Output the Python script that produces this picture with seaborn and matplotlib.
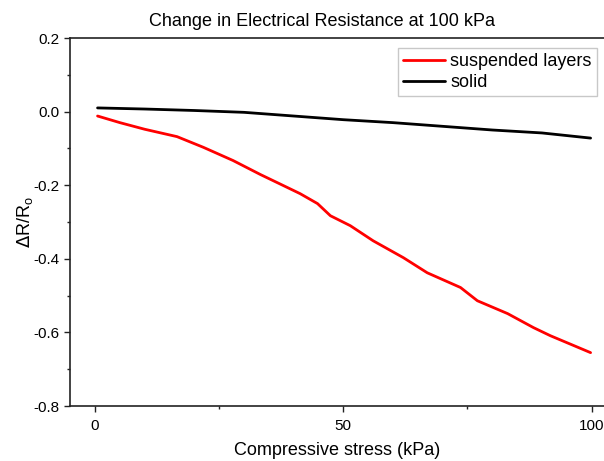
import numpy as np
import pandas as pd
import matplotlib
matplotlib.use("Agg")
import matplotlib.pyplot as plt
import seaborn as sns
from matplotlib.ticker import MultipleLocator

# Data
susp_x = [0.5, 5, 10, 16.5, 21.8, 27.8, 33.3, 37, 41.3, 44.8, 47.4, 51.4, 56, 62.1,
          66.9, 73.6, 77, 83.1, 88.3, 91.7, 99.8]
susp_y = [-0.012, -0.030, -0.048, -0.068, -0.097, -0.133, -0.171, -0.195, -0.223, -0.250,
          -0.283, -0.310, -0.351, -0.397, -0.438, -0.478, -0.514, -0.549, -0.587, -0.609, -0.655]
solid_x = [0.5, 10, 20, 30, 40, 50, 60, 70, 80, 90, 99.8]
solid_y = [0.010, 0.007, 0.003, -0.002, -0.012, -0.022, -0.030, -0.040, -0.050, -0.058, -0.072]
y_ticks = [0.2, 0.0, -0.2, -0.4, -0.6, -0.8]
y_ticklabels = ["0.2", "0.0", "-0.2", "-0.4", "-0.6", "-0.8"]

df = pd.concat([
    pd.DataFrame({"x": susp_x, "y": susp_y, "series": "suspended layers"}),
    pd.DataFrame({"x": solid_x, "y": solid_y, "series": "solid"}),
])

sns.set_style("ticks")
plt.rcParams["font.family"] = ["Liberation Sans", "DejaVu Sans"]
plt.rcParams["text.color"] = "black"
plt.rcParams["axes.labelcolor"] = "black"
plt.rcParams["xtick.color"] = "#222222"
plt.rcParams["ytick.color"] = "#222222"
plt.rcParams["xtick.labelcolor"] = "black"
plt.rcParams["ytick.labelcolor"] = "black"

fig = plt.figure(figsize=(6.04, 4.61), dpi=100)
ax = fig.add_axes([70/604, 1 - 406/461, 1 - 70/604, (406 - 38)/461])

sns.lineplot(data=df, x="x", y="y", hue="series", sort=False,
             palette={"suspended layers": "#ff0000", "solid": "#000000"},
             linewidth=2.0, ax=ax, estimator=None)

ax.set_xlim(-5.05, 102.5)
ax.set_ylim(-0.8, 0.2)
ax.xaxis.set_major_locator(MultipleLocator(50))
ax.xaxis.set_minor_locator(MultipleLocator(25))
ax.yaxis.set_minor_locator(MultipleLocator(0.1))
ax.set_yticks(y_ticks)
ax.set_yticklabels(y_ticklabels)

ax.tick_params(which="major", length=4.5, width=1, direction="out", labelsize=11, pad=3)
ax.tick_params(axis="x", which="major", pad=5)
ax.tick_params(which="minor", length=2.5, width=1, direction="out")
for s in ["left", "bottom", "top"]:
    ax.spines[s].set_linewidth(1.2)
    ax.spines[s].set_color("#222222")
ax.spines["right"].set_visible(False)

ax.set_xlabel("Compressive stress (kPa)", fontsize=13, labelpad=6)
ax.set_ylabel(r"$\Delta$R/R$_\mathregular{o}$", fontsize=13, labelpad=-1)
ax.set_title("Change in Electrical Resistance at 100 kPa", fontsize=13, pad=9, x=0.472)

leg = ax.legend(loc="upper right", fontsize=13, frameon=True, fancybox=False,
                handlelength=2.3, handletextpad=0.3, borderpad=0.3,
                labelspacing=0.2, borderaxespad=0)
leg.set_bbox_to_anchor((597/604, 1 - 48/461), transform=fig.transFigure)
leg.get_frame().set_edgecolor("#bbbbbb")
leg.get_frame().set_linewidth(1.0)

fig.savefig("out.png", dpi=100)
